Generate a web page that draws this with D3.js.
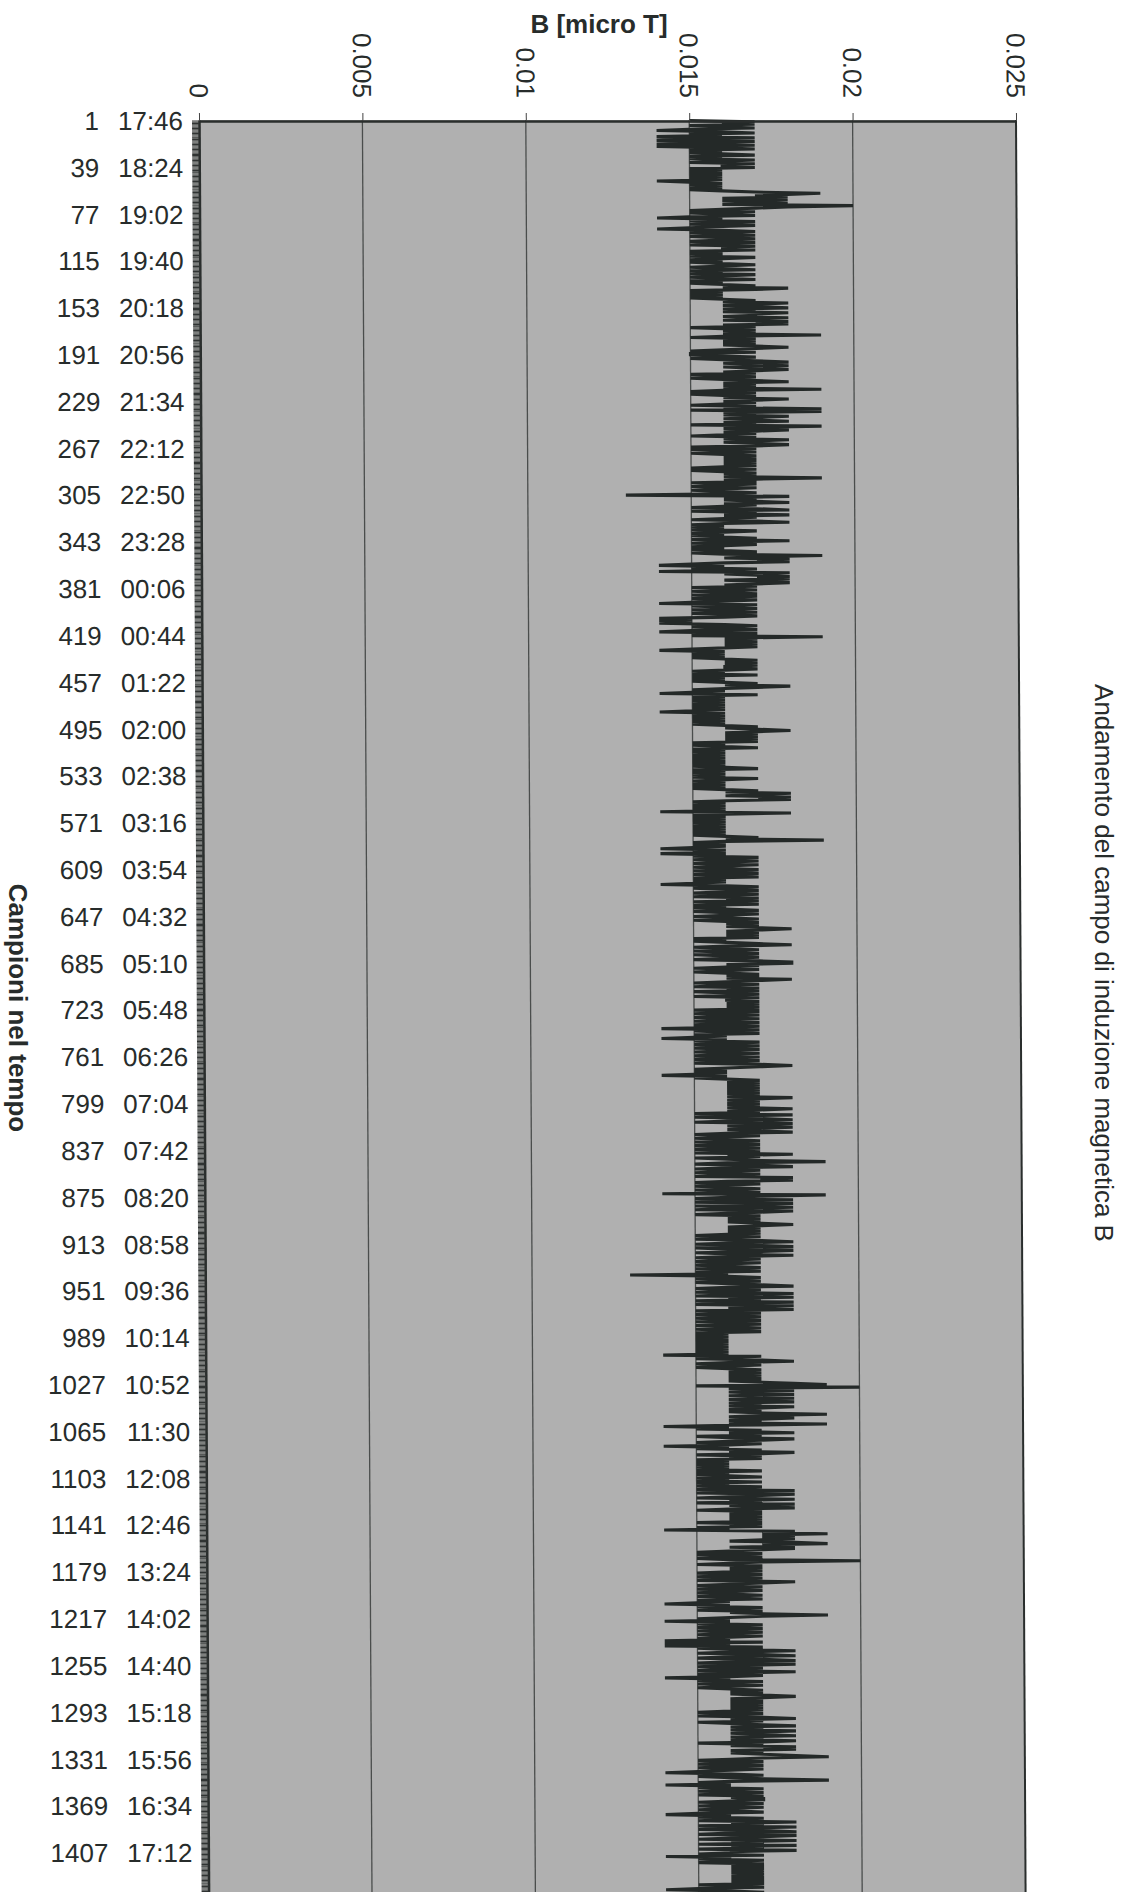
<!DOCTYPE html>
<html lang="it">
<head>
<meta charset="utf-8">
<title>Andamento del campo di induzione magnetica B</title>
<script src="https://cdn.jsdelivr.net/npm/d3@7"></script>
<style>
  body { margin: 0; background: #fff; }
  svg text { font-family: "Liberation Sans", Arial, sans-serif; fill: #272c2b; }
</style>
</head>
<body>
<script>
var w = 1130, h = 1892;

// one string per label block (38 samples, one per minute), one char per sample:
// B = 0.010 + digit / 1000  ('a' = 0.020)
var blocks = [
  "5767567546 7564754764 7467565675 65765766",
  "7565656565 6456565656 7987868678 6a876575",
  "6754657657 6546756756 7657657667 56565765",
  "6567656756 5765675656 7687565656 56768767",
  "8676877687 6878675676 7696576767 67876575",
  "5675678678 6787675675 6786767696 57567687",
  "6765769596 7687678675 9768767657 68767875",
  "7567567676 7676765756 7676976757 65765676",
  "3867678676 5785768676 5786565657 65656758",
  "6576565675 6976878654 6576486787 86787675",
  "6756757657 6547567567 5676454546 75675476",
  "5967676767 6546565656 7676766765 65756565",
  "6768765654 7565656565 6565465656 56565676",
  "7876767676 7565675656 5656565656 56756565",
  "6576565656 5676876878 6565656564 86565656",
  "5656565656 5676965656 5465646576 57657656",
  "7567567565 6546756765 7657675675 65675676",
  "5675676767 8767676756 5678656756 75676578",
  "8676576567 6768765765 7675676576 67676767",
  "5765765765 7657647567 5654657657 65765765",
  "7657657876 5656546567 6767676767 67687676",
  "7676876758 6578658768 7678657656 75675675",
  "6758675679 6578657657 6587865765 67567497",
  "6586587586 5876576767 6787676767 65765786",
  "5785687568 6576576567 5675636756 75678657",
  "6586586758 6587685675 6756756756 75675656",
  "5656565656 5656476578 6576567676 76767678",
  "95a6786786 7867867687 6767976876 76964657",
  "6867568765 7646576875 7675656565 65756567",
  "5657565765 8658765867 5867865767 67676757",
  "6756487978 7876897868 765756756a 76576767",
  "6576576587 6576576567 5675654657 65767976",
  "5646576576 5765765647 4647568657 86578658",
  "6576586576 4657657656 7676787676 76767676",
  "5765786756 7867687678 6768757687 86767897",
  "6576576576 5467567965 6465765765 76776576",
  "5765675465 7658675865 7865876586 75867586",
  "6574657657 6767676767 6767675675 4676"
];

var tickNums = [1, 39, 77, 115, 153, 191, 229, 267, 305, 343, 381, 419, 457, 495,
  533, 571, 609, 647, 685, 723, 761, 799, 837, 875, 913, 951, 989, 1027, 1065,
  1103, 1141, 1179, 1217, 1255, 1293, 1331, 1369, 1407];
var tickTimes = ["17:46", "18:24", "19:02", "19:40", "20:18", "20:56", "21:34",
  "22:12", "22:50", "23:28", "00:06", "00:44", "01:22", "02:00", "02:38", "03:16",
  "03:54", "04:32", "05:10", "05:48", "06:26", "07:04", "07:42", "08:20", "08:58",
  "09:36", "10:14", "10:52", "11:30", "12:08", "12:46", "13:24", "14:02", "14:40",
  "15:18", "15:56", "16:34", "17:12"];
var xTicks = [0, 0.005, 0.01, 0.015, 0.02, 0.025];

var values = blocks.join("").replace(/ /g, "").split("").map(function(c) {
  return (10 + parseInt(c, 36)) / 1000;
});
var data = values.map(function(v, i) { return {i: i + 1, v: v}; });

var pTop = 120, pLeft = 199, pRight = 1016;
var pBottom = pTop + values.length * 1.232;

var x = d3.scaleLinear().domain([0, 0.025]).range([pLeft, pRight]);
var y = d3.scalePoint().domain(data.map(function(d) { return d.i; }))
    .range([pTop, pBottom]).padding(0.5);

var svg = d3.select("body").append("svg")
    .attr("width", w).attr("height", h);

// the scanned page is slightly sheared: bottom sits ~9px right of the top
var g = svg.append("g")
    .attr("transform", "translate(0," + pTop + ") skewX(0.31) translate(0," + (-pTop) + ")");

g.append("rect")
    .attr("x", pLeft).attr("y", pTop)
    .attr("width", pRight - pLeft).attr("height", pBottom - pTop)
    .attr("fill", "#b0b0b0");

g.selectAll("line.grid")
  .data(xTicks.slice(1, -1))
  .enter().append("line")
    .attr("class", "grid")
    .attr("x1", x).attr("x2", x)
    .attr("y1", pTop).attr("y2", pBottom)
    .attr("stroke", "#4a4d4c")
    .attr("stroke-width", 1.3);

var line = d3.line()
    .x(function(d) { return x(d.v); })
    .y(function(d) { return y(d.i); });

g.append("path")
    .datum(data)
    .attr("d", line)
    .attr("fill", "none")
    .attr("stroke", "#242928")
    .attr("stroke-width", 3.1);

// right border of plot
g.append("line")
    .attr("x1", pRight).attr("x2", pRight)
    .attr("y1", pTop).attr("y2", pBottom)
    .attr("stroke", "#2a2e2d").attr("stroke-width", 2);

// category axis: a tick for every sample
var yAxis = g.append("g")
    .attr("transform", "translate(" + pLeft + ",0)")
    .call(d3.axisLeft(y).tickSize(7).tickSizeOuter(0).tickFormat(""));
yAxis.selectAll("line").attr("stroke", "#303433").attr("stroke-width", 1);
yAxis.select(".domain").attr("stroke", "#2a2e2d").attr("stroke-width", 2.5);

var xAxis = g.append("g")
    .attr("transform", "translate(0," + (pTop + 1) + ")")
    .call(d3.axisTop(x).tickValues(xTicks).tickSize(8).tickSizeOuter(0).tickFormat(""));
xAxis.selectAll("line").attr("stroke", "#444").attr("stroke-width", 1);
xAxis.select(".domain").attr("stroke", "#2a2e2d").attr("stroke-width", 2.5);

g.selectAll("text.xlab")
  .data(xTicks)
  .enter().append("text")
    .attr("class", "xlab")
    .attr("transform", function(d) { return "translate(" + x(d) + ",98) rotate(90)"; })
    .attr("text-anchor", "end")
    .attr("dy", "0.35em")
    .attr("font-size", 26)
    .text(function(d) { return String(d); });

g.selectAll("text.num")
  .data(tickNums)
  .enter().append("text")
    .attr("class", "num")
    .attr("x", 99)
    .attr("y", function(d) { return y(d); })
    .attr("dy", "0.36em")
    .attr("text-anchor", "end")
    .attr("font-size", 26)
    .text(function(d) { return d; });

g.selectAll("text.time")
  .data(tickTimes)
  .enter().append("text")
    .attr("class", "time")
    .attr("x", 183)
    .attr("y", function(d, i) { return y(tickNums[i]); })
    .attr("dy", "0.36em")
    .attr("text-anchor", "end")
    .attr("font-size", 26)
    .text(function(d) { return d; });

svg.append("text")
    .attr("x", 599).attr("y", 33)
    .attr("text-anchor", "middle")
    .attr("font-size", 26).attr("font-weight", "bold")
    .text("B [micro T]");

svg.append("text")
    .attr("transform", "translate(9,1008) rotate(90)")
    .attr("text-anchor", "middle")
    .attr("font-size", 26).attr("font-weight", "bold")
    .text("Campioni nel tempo");

svg.append("text")
    .attr("transform", "translate(1095,963) rotate(90)")
    .attr("text-anchor", "middle")
    .attr("font-size", 26)
    .text("Andamento del campo di induzione magnetica B");
</script>
</body>
</html>
